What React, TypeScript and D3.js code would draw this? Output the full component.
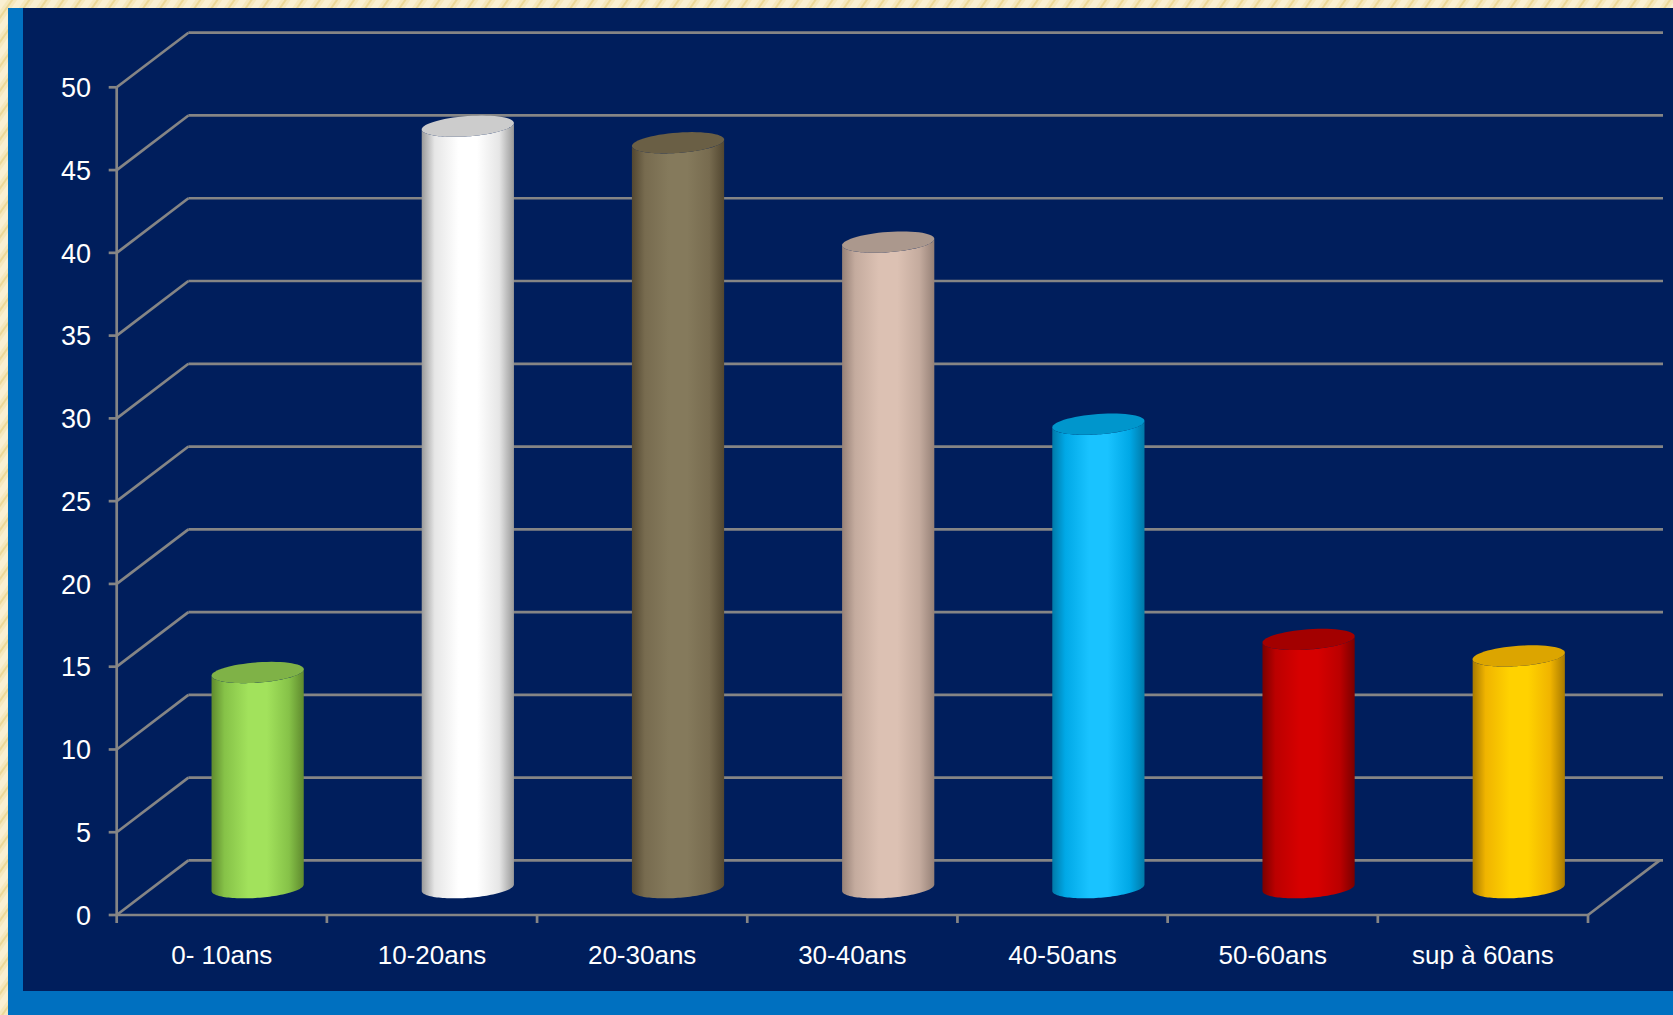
import React from "react";
import * as d3 from "d3";

const categories = ["0- 10ans", "10-20ans", "20-30ans", "30-40ans", "40-50ans", "50-60ans", "sup à 60ans"];
const values = [13, 46, 45, 39, 28, 15, 14];
const yTicks = [0, 5, 10, 15, 20, 25, 30, 35, 40, 45, 50];
// edge, mid, light, cap
const barEdge = ["#5f8a2e", "#9a9a9a", "#524731", "#968177", "#0079a8", "#7a0000", "#a87a00"];
const barMid = ["#86c248", "#e6e6e6", "#776b4f", "#c4ab9e", "#00a8e6", "#bb0000", "#f0b400"];
const barLight = ["#a2e25c", "#ffffff", "#857a5c", "#dcc1b3", "#19c3ff", "#d60000", "#ffd200"];
const barCap = ["#7fb247", "#cccccc", "#6a5f45", "#ab988d", "#0096cc", "#a30000", "#dca500"];

const W = 1673;
const H = 1015;
const X0 = 116.7;
const X1 = 1588;
const Y0 = 915;
const Y50 = 87.3;
const DX = 71.7;
const DY = -54.6;

export default function App() {
  const x = d3.scaleBand<string>().domain(categories).range([X0, X1]).padding(0);
  const y = d3.scaleLinear().domain([0, 50]).range([Y0, Y50]);
  const bw = x.bandwidth();
  const R = bw * 0.209;
  const rho = 0.195;
  const a = rho * DX;
  const b = rho * DY;
  const th1 = Math.atan2(a, R);
  const thL = th1 + Math.PI;
  const thR = th1 + 2 * Math.PI;
  const pt = (cx: number, cy: number, t: number): [number, number] => [
    cx + R * Math.cos(t) + a * Math.sin(t),
    cy + b * Math.sin(t),
  ];
  const N = 60;
  const arc = (cx: number, cy: number, t0: number, t1: number) => {
    const out: [number, number][] = [];
    for (let i = 0; i <= N; i++) out.push(pt(cx, cy, t0 + ((t1 - t0) * i) / N));
    return out;
  };
  const line = d3.line();

  const gridColor = "#858585";
  const gw = 2.7;

  return (
    <svg width={W} height={H} style={{ position: "absolute", left: 0, top: 0, display: "block" }}
      fontFamily="'Liberation Sans', Arial, sans-serif">
      <defs>
        <pattern id="cream" width="14" height="14" patternUnits="userSpaceOnUse" patternTransform="rotate(35)">
          <rect width="14" height="14" fill="#f6e8bd" />
          <rect width="6" height="14" fill="#faf0d2" />
          <rect x="9" width="2" height="14" fill="#ecd898" />
        </pattern>
        {values.map((_, i) => (
          <linearGradient key={i} id={`g${i}`} x1="0" x2="1" y1="0" y2="0">
            <stop offset="0%" stopColor={barEdge[i]} />
            <stop offset="14%" stopColor={barMid[i]} />
            <stop offset="40%" stopColor={barLight[i]} />
            <stop offset="60%" stopColor={barLight[i]} />
            <stop offset="84%" stopColor={barMid[i]} />
            <stop offset="100%" stopColor={barEdge[i]} />
          </linearGradient>
        ))}
      </defs>
      <rect x={0} y={0} width={W} height={H} fill="url(#cream)" />
      <rect x={8} y={8} width={W - 8} height={H - 8} fill="#0070c0" />
      <rect x={23} y={8} width={W - 23} height={991 - 8} fill="#001e5c" />

      {/* back grid lines and left wall diagonals */}
      {yTicks.map((t) => (
        <g key={t}>
          <line x1={X0 + DX} x2={1663} y1={y(t) + DY} y2={y(t) + DY} stroke={gridColor} strokeWidth={gw} />
          <line x1={X0} x2={X0 + DX} y1={y(t)} y2={y(t) + DY} stroke={gridColor} strokeWidth={gw} />
          <line x1={X0 - 8} x2={X0} y1={y(t)} y2={y(t)} stroke={gridColor} strokeWidth={gw} />
        </g>
      ))}
      {/* front vertical axis */}
      <line x1={X0} x2={X0} y1={y(0) + 1} y2={y(50)} stroke={gridColor} strokeWidth={gw} />
      {/* floor */}
      <line x1={X1} x2={X1 + DX} y1={Y0} y2={Y0 + DY} stroke={gridColor} strokeWidth={gw} />

      {/* bars */}
      {values.map((v, i) => {
        const cx = (x(categories[i]) as number) + bw / 2 + DX / 2;
        const cyB = y(0) + DY / 2;
        const cyT = y(v) + DY / 2;
        const bottomFront = arc(cx, cyB, thL, thR);
        const topFront = arc(cx, cyT, thR, thL);
        const body = line([...bottomFront, ...topFront]) + "Z";
        const cap = line(arc(cx, cyT, 0, 2 * Math.PI)) + "Z";
        return (
          <g key={i}>
            <path d={body} fill={`url(#g${i})`} />
            <path d={cap} fill={barCap[i]} />
          </g>
        );
      })}

      <line x1={X0} x2={X1} y1={Y0} y2={Y0} stroke={gridColor} strokeWidth={gw} />
      {d3.range(categories.length + 1).map((k) => {
        const xx = X0 + k * bw;
        return <line key={k} x1={xx} x2={xx} y1={Y0} y2={Y0 + 8} stroke={gridColor} strokeWidth={gw} />;
      })}

      {/* y labels */}
      {yTicks.map((t) => (
        <text key={t} x={91} y={y(t)} dy="0.36em" textAnchor="end" fill="#ffffff" fontSize={27}>
          {t}
        </text>
      ))}
      {/* x labels */}
      {categories.map((c) => (
        <text key={c} x={(x(c) as number) + bw / 2} y={964} textAnchor="middle" fill="#ffffff" fontSize={26}>
          {c}
        </text>
      ))}
    </svg>
  );
}
